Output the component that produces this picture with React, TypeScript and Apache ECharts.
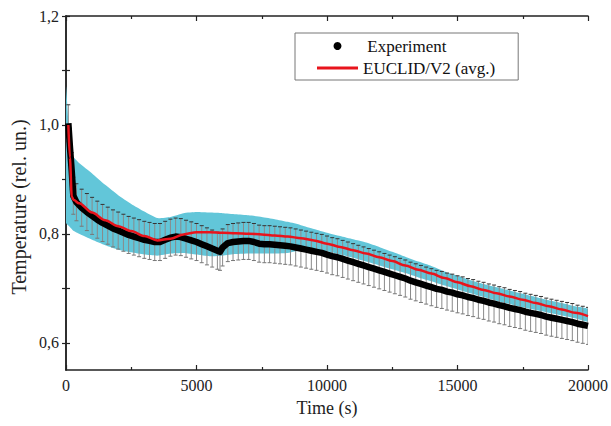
import React, { useEffect, useRef } from "react";
import * as echarts from "echarts";

// ---- Experiment (time s, relative temperature) ----
const EXP_TIME = [
  90, 150, 220, 280, 400, 600, 800, 1000, 1200, 1400, 1600, 1800, 2000, 2200, 2400, 2600, 2800, 3000,
  3200, 3400, 3600, 3800, 4000, 4200, 4400, 4600, 4800, 5000, 5200, 5400, 5600, 5800, 5900, 6000, 6200,
  6400, 6600, 6800, 7000, 7200, 7400, 7600, 7800, 8000, 8200, 8400, 8600, 8800, 9000, 9200, 9400, 9600,
  9800, 10000, 10200, 10400, 10600, 10800, 11000, 11200, 11400, 11600, 11800, 12000, 12200, 12400, 12600,
  12800, 13000, 13200, 13400, 13600, 13800, 14000, 14200, 14400, 14600, 14800, 15000, 15200, 15400, 15600,
  15800, 16000, 16200, 16400, 16600, 16800, 17000, 17200, 17400, 17600, 17800, 18000, 18200, 18400, 18600,
  18800, 19000, 19200, 19400, 19600, 19800, 20000,
];
const EXP_TEMP = [
  1.003, 0.96, 0.915, 0.87, 0.858, 0.848, 0.84, 0.833, 0.826, 0.82, 0.815, 0.81, 0.806, 0.802, 0.798, 0.795,
  0.792, 0.789, 0.787, 0.785, 0.785, 0.789, 0.793, 0.795, 0.794, 0.791, 0.788, 0.785, 0.781, 0.777, 0.773,
  0.769, 0.767, 0.775, 0.783, 0.785, 0.786, 0.787, 0.787, 0.785, 0.782, 0.781, 0.781, 0.78, 0.779, 0.778,
  0.777, 0.775, 0.773, 0.771, 0.769, 0.767, 0.765, 0.762, 0.759, 0.757, 0.754, 0.751, 0.748, 0.745, 0.742,
  0.739, 0.736, 0.733, 0.73, 0.727, 0.724, 0.721, 0.718, 0.714, 0.711, 0.708, 0.705, 0.702, 0.699, 0.697,
  0.694, 0.692, 0.689, 0.687, 0.684, 0.682, 0.679, 0.677, 0.674, 0.672, 0.669, 0.667, 0.664, 0.662, 0.66,
  0.657, 0.655, 0.653, 0.651, 0.648, 0.646, 0.644, 0.642, 0.64, 0.638, 0.635, 0.633, 0.631,
];
const EXP_ERR = 0.034;

// ---- EUCLID/V2 average ----
const SIM_TIME = [
  90, 150, 220, 300, 500, 1000, 1500, 2000, 2500, 3000, 3500, 4000, 4500, 5000, 5500, 6000, 6500, 7000,
  7500, 8000, 8500, 9000, 9500, 10000, 10500, 11000, 11500, 12000, 12500, 13000, 13500, 14000, 14500,
  15000, 15500, 16000, 16500, 17000, 17500, 18000, 18500, 19000, 19500, 20000,
];
const SIM_AVG = [
  1.0, 0.94, 0.868, 0.862, 0.856, 0.839, 0.825, 0.814, 0.805, 0.796, 0.788, 0.791, 0.799, 0.803, 0.803, 0.802,
  0.801, 0.8, 0.799, 0.797, 0.795, 0.792, 0.788, 0.782, 0.776, 0.77, 0.764, 0.757, 0.75, 0.742, 0.734,
  0.727, 0.719, 0.711, 0.704, 0.697, 0.691, 0.685, 0.679, 0.673, 0.667, 0.661, 0.655, 0.649,
];

// ---- EUCLID/V2 spread band ----
const BAND_TIME = [
  0, 100, 200, 300, 500, 1000, 1500, 2000, 2500, 3000, 3500, 4000, 4500, 5000, 5500, 6000, 6500, 7000,
  7500, 8000, 8500, 9000, 9500, 10000, 10500, 11000, 11500, 12000, 12500, 13000, 13500, 14000, 14500,
  15000, 15500, 16000, 16500, 17000, 17500, 18000, 18500, 19000, 19500, 20000,
];
const BAND_HI = [
  1.07, 1.0, 0.945, 0.94, 0.93, 0.911, 0.89, 0.871, 0.855, 0.841, 0.829, 0.831, 0.838, 0.84, 0.839, 0.838,
  0.836, 0.834, 0.831, 0.827, 0.822, 0.816, 0.809, 0.802, 0.796, 0.79, 0.784, 0.776, 0.767, 0.758, 0.749,
  0.741, 0.731, 0.723, 0.715, 0.708, 0.702, 0.696, 0.69, 0.684, 0.678, 0.673, 0.667, 0.662,
];
const BAND_LO = [
  0.82, 0.815, 0.81, 0.805, 0.8, 0.789, 0.779, 0.771, 0.766, 0.762, 0.76, 0.764, 0.765, 0.762, 0.759, 0.76,
  0.763, 0.764, 0.764, 0.764, 0.765, 0.77, 0.771, 0.768, 0.762, 0.756, 0.749, 0.742, 0.735, 0.728, 0.72,
  0.713, 0.705, 0.698, 0.691, 0.684, 0.677, 0.671, 0.665, 0.66, 0.655, 0.65, 0.645, 0.639,
];

const Y_TICKS = [0.6, 0.7, 0.8, 0.9, 1.0, 1.1, 1.2];
const Y_LABELS = [0.6, 0.8, 1.0, 1.2];

const FONT = "'Liberation Serif', 'Times New Roman', serif";
const AXIS_COLOR = "#222";
const CYAN = "#62c6d9";
const RED = "#e8141c";

export default function App() {
  const ref = useRef<HTMLDivElement>(null);

  useEffect(() => {
    if (!ref.current) return;
    const chart = echarts.init(ref.current, undefined, { renderer: "svg" });

    const axisLine = { show: true, lineStyle: { color: AXIS_COLOR, width: 1.5 } };
    const xCommon = {
      type: "value" as const,
      min: 0,
      max: 20000,
      interval: 5000,
      axisLine,
      splitLine: { show: false },
      axisTick: { show: true, inside: true, length: 5, lineStyle: { color: AXIS_COLOR, width: 1.2 } },
      minorTick: { show: true, splitNumber: 2, length: 3, lineStyle: { color: AXIS_COLOR, width: 1.2 } },
    };
    const yCommon = {
      type: "value" as const,
      min: 0.55,
      max: 1.2,
      axisLine,
      splitLine: { show: false },
      axisTick: {
        show: true,
        inside: true,
        length: 4,
        customValues: Y_TICKS,
        lineStyle: { color: AXIS_COLOR, width: 1.2 },
      },
    };

    chart.setOption({
      animation: false,
      backgroundColor: "#fff",
      grid: { left: 66, right: 23, top: 16, bottom: 56, containLabel: false },
      xAxis: [
        {
          ...xCommon,
          position: "bottom",
          name: "Time (s)",
          nameLocation: "middle",
          nameGap: 29,
          nameTextStyle: { fontFamily: FONT, fontSize: 18, color: AXIS_COLOR },
          axisLabel: {
            fontFamily: FONT,
            fontSize: 16,
            color: AXIS_COLOR,
            margin: 7,
            formatter: (v: number) => String(v),
          },
        },
        {
          ...xCommon,
          position: "top",
          axisLabel: { show: false },
        },
      ],
      yAxis: [
        {
          ...yCommon,
          position: "left",
          axisLabel: {
            fontFamily: FONT,
            fontSize: 16,
            color: AXIS_COLOR,
            margin: 7,
            customValues: Y_LABELS,
            formatter: (v: number) => v.toFixed(1).replace(".", ","),
          },
        },
        {
          ...yCommon,
          position: "right",
          axisLabel: { show: false },
        },
      ],
      legend: {
        left: 295,
        top: 33,
        orient: "vertical",
        padding: [3, 23, 2, 22],
        itemGap: 2,
        itemWidth: 41,
        itemHeight: 8,
        borderColor: "#777",
        borderWidth: 1,
        backgroundColor: "#fff",
        selectedMode: false,
        textStyle: { fontFamily: FONT, fontSize: 17, color: "#111", lineHeight: 20 },
        formatter: (name: string) => (name === "Experiment" ? " " + name : name),
        data: [
          { name: "Experiment", icon: "circle", itemStyle: { color: "#000", borderWidth: 0 } },
          { name: "EUCLID/V2 (avg.)", icon: "path://M0,0H41V3H0Z", itemStyle: { color: RED, borderWidth: 0 } },
        ],
      },
      series: [
        {
          name: "band",
          type: "custom",
          silent: true,
          clip: true,
          encode: { x: 0, y: [1, 2] },
          data: BAND_TIME.map((t, i) => [t, BAND_LO[i], BAND_HI[i]]),
          renderItem: (params: any, api: any) => {
            if (params.dataIndex !== 0) return null;
            const pts: number[][] = [];
            for (let i = 0; i < BAND_TIME.length; i++) pts.push(api.coord([BAND_TIME[i], BAND_HI[i]]));
            for (let i = BAND_TIME.length - 1; i >= 0; i--) pts.push(api.coord([BAND_TIME[i], BAND_LO[i]]));
            return {
              type: "polygon",
              shape: { points: pts, smooth: 0.15 },
              style: { fill: CYAN, stroke: "none" },
            };
          },
        },
        {
          name: "errors",
          type: "custom",
          silent: true,
          clip: true,
          encode: { x: 0, y: 1 },
          data: EXP_TIME.map((t, i) => [t, EXP_TEMP[i]]),
          renderItem: (_params: any, api: any) => {
            const t = api.value(0);
            const v = api.value(1);
            const top = api.coord([t, v + EXP_ERR]);
            const bot = api.coord([t, v - EXP_ERR]);
            const w = 2;
            return {
              type: "group",
              children: [
                { type: "line", shape: { x1: top[0], y1: top[1], x2: bot[0], y2: bot[1] }, style: { stroke: "#8a8a8a", lineWidth: 1 } },
                { type: "line", shape: { x1: top[0] - w, y1: top[1], x2: top[0] + w, y2: top[1] }, style: { stroke: "#333", lineWidth: 1 } },
                { type: "line", shape: { x1: bot[0] - w, y1: bot[1], x2: bot[0] + w, y2: bot[1] }, style: { stroke: "#777", lineWidth: 1 } },
              ],
            };
          },
        },
        {
          name: "Experiment",
          type: "line",
          data: EXP_TIME.map((t, i) => [t, EXP_TEMP[i]]),
          symbol: "none",
          color: "#000",
          lineStyle: { color: "#000", width: 6.5, join: "round", cap: "butt" },
        },
        {
          name: "EUCLID/V2 (avg.)",
          type: "line",
          data: SIM_TIME.map((t, i) => [t, SIM_AVG[i]]),
          symbol: "none",
          smooth: 0.3,
          smoothMonotone: "x",
          color: RED,
          lineStyle: { color: RED, width: 2.5 },
        },
      ],
      graphic: [
        {
          type: "text",
          x: 19,
          y: 207,
          rotation: Math.PI / 2,
          style: {
            text: "Temperature (rel. un.)",
            font: `20px ${FONT}`,
            fill: AXIS_COLOR,
            textAlign: "center",
            textVerticalAlign: "middle",
            verticalAlign: "middle",
          },
        },
      ],
    });

    return () => chart.dispose();
  }, []);

  return (
    <div
      ref={ref}
      style={{ position: "fixed", left: 0, top: 0, width: 611, height: 426, background: "#fff" }}
    />
  );
}
